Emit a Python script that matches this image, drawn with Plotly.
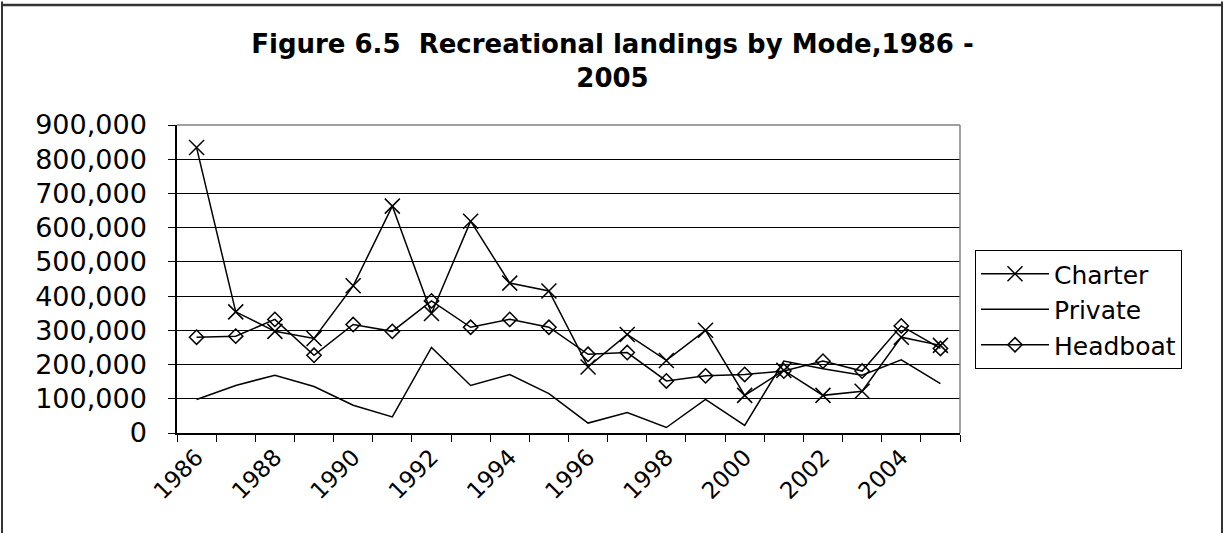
import plotly.graph_objects as go

years = list(range(1986, 2006))
charter = [834000, 354000, 297000, 276000, 430000, 663000, 349000, 619000, 438000, 415000,
           193000, 288000, 212000, 300000, 110000, 183000, 110000, 122000, 280000, 256000]
private = [98000, 139000, 169000, 136000, 81000, 47000, 250000, 139000, 171000, 115000,
           29000, 60000, 16000, 98000, 22000, 210000, 188000, 169000, 214000, 144000]
headboat = [280000, 283000, 332000, 227000, 317000, 297000, 386000, 309000, 332000, 309000,
            230000, 235000, 152000, 167000, 171000, 181000, 210000, 181000, 313000, 247000]
tick_years = list(range(1986, 2006, 2))
y_ticks = list(range(0, 900001, 100000))

W, H = 1225, 533
L, R, T, B = 177, 960, 125, 433

fig = go.Figure()
fig.add_trace(go.Scatter(x=years, y=charter, name="Charter", mode="lines+markers",
                         line=dict(color="black", width=1.5),
                         marker=dict(symbol="x-thin-open", size=15, color="black",
                                     line=dict(color="black", width=1.5))))
fig.add_trace(go.Scatter(x=years, y=private, name="Private", mode="lines",
                         line=dict(color="black", width=1.5)))
fig.add_trace(go.Scatter(x=years, y=headboat, name="Headboat", mode="lines+markers",
                         line=dict(color="black", width=1.5),
                         marker=dict(symbol="diamond-open", size=11, color="black",
                                     line=dict(color="black", width=1.5))))

pw, ph = R - L, B - T
def px(xp):
    return (xp - L) / pw
def py(yp):
    return (B - yp) / ph

fig.update_layout(
    width=W, height=H,
    margin=dict(l=L, r=W - R, t=T, b=H - B, pad=0),
    paper_bgcolor="white", plot_bgcolor="white",
    font=dict(family="DejaVu Sans", color="black"),
    title=dict(text="<b>Figure 6.5  Recreational landings by Mode,1986 -<br>2005</b>",
               x=0.5, xref="container", xanchor="center",
               y=1 - 53 / H, yref="container", yanchor="top",
               font=dict(family="DejaVu Sans", size=26, color="black")),
    xaxis=dict(range=[1985.5, 2005.5], tickmode="array", tickvals=tick_years,
               ticktext=[str(y) for y in tick_years], tickangle=-45,
               ticks="", showgrid=False, zeroline=False,
               showline=True, linecolor="black", linewidth=1.5,
               tickfont=dict(family="DejaVu Sans", size=23, color="black"),
               minor=dict(tickmode="linear", tick0=1985.5, dtick=1, ticks="outside",
                          ticklen=7, tickwidth=1.2, tickcolor="black", showgrid=False)),
    yaxis=dict(range=[0, 900000], tickmode="array", tickvals=y_ticks,
               ticktext=[f"{v:,}" for v in y_ticks],
               ticks="outside", ticklen=7, tickwidth=1.2, tickcolor="black",
               showgrid=True, gridcolor="black", gridwidth=1, zeroline=False,
               showline=True, linecolor="black", linewidth=1.5,
               ticklabelstandoff=16,
               tickfont=dict(family="DejaVu Sans", size=27, color="black")),
    legend=dict(x=px(975), y=py(250), xanchor="left", yanchor="top",
                bordercolor="black", borderwidth=1, bgcolor="white",
                font=dict(family="DejaVu Sans", size=25, color="black"),
                tracegroupgap=0, itemwidth=68),
    shapes=[
        dict(type="line", xref="paper", yref="paper", x0=0, x1=1, y0=1, y1=1,
             line=dict(color="#808080", width=1.5), layer="above"),
        dict(type="line", xref="paper", yref="paper", x0=1, x1=1, y0=0, y1=1,
             line=dict(color="#808080", width=1.5), layer="above"),
        dict(type="line", xref="paper", yref="paper", x0=px(2), x1=px(2), y0=py(1.5), y1=py(560),
             line=dict(color="#333333", width=2), layer="above"),
        dict(type="line", xref="paper", yref="paper", x0=px(1222), x1=px(1222), y0=py(1.5), y1=py(560),
             line=dict(color="#333333", width=2), layer="above"),
        dict(type="line", xref="paper", yref="paper", x0=px(1), x1=px(1223), y0=py(5), y1=py(5),
             line=dict(color="#333333", width=2.5), layer="above"),
    ],
    showlegend=True,
)

fig.write_html("out.html", config={"displayModeBar": False},
               post_script="document.body.style.margin='0';document.body.style.padding='0';")
